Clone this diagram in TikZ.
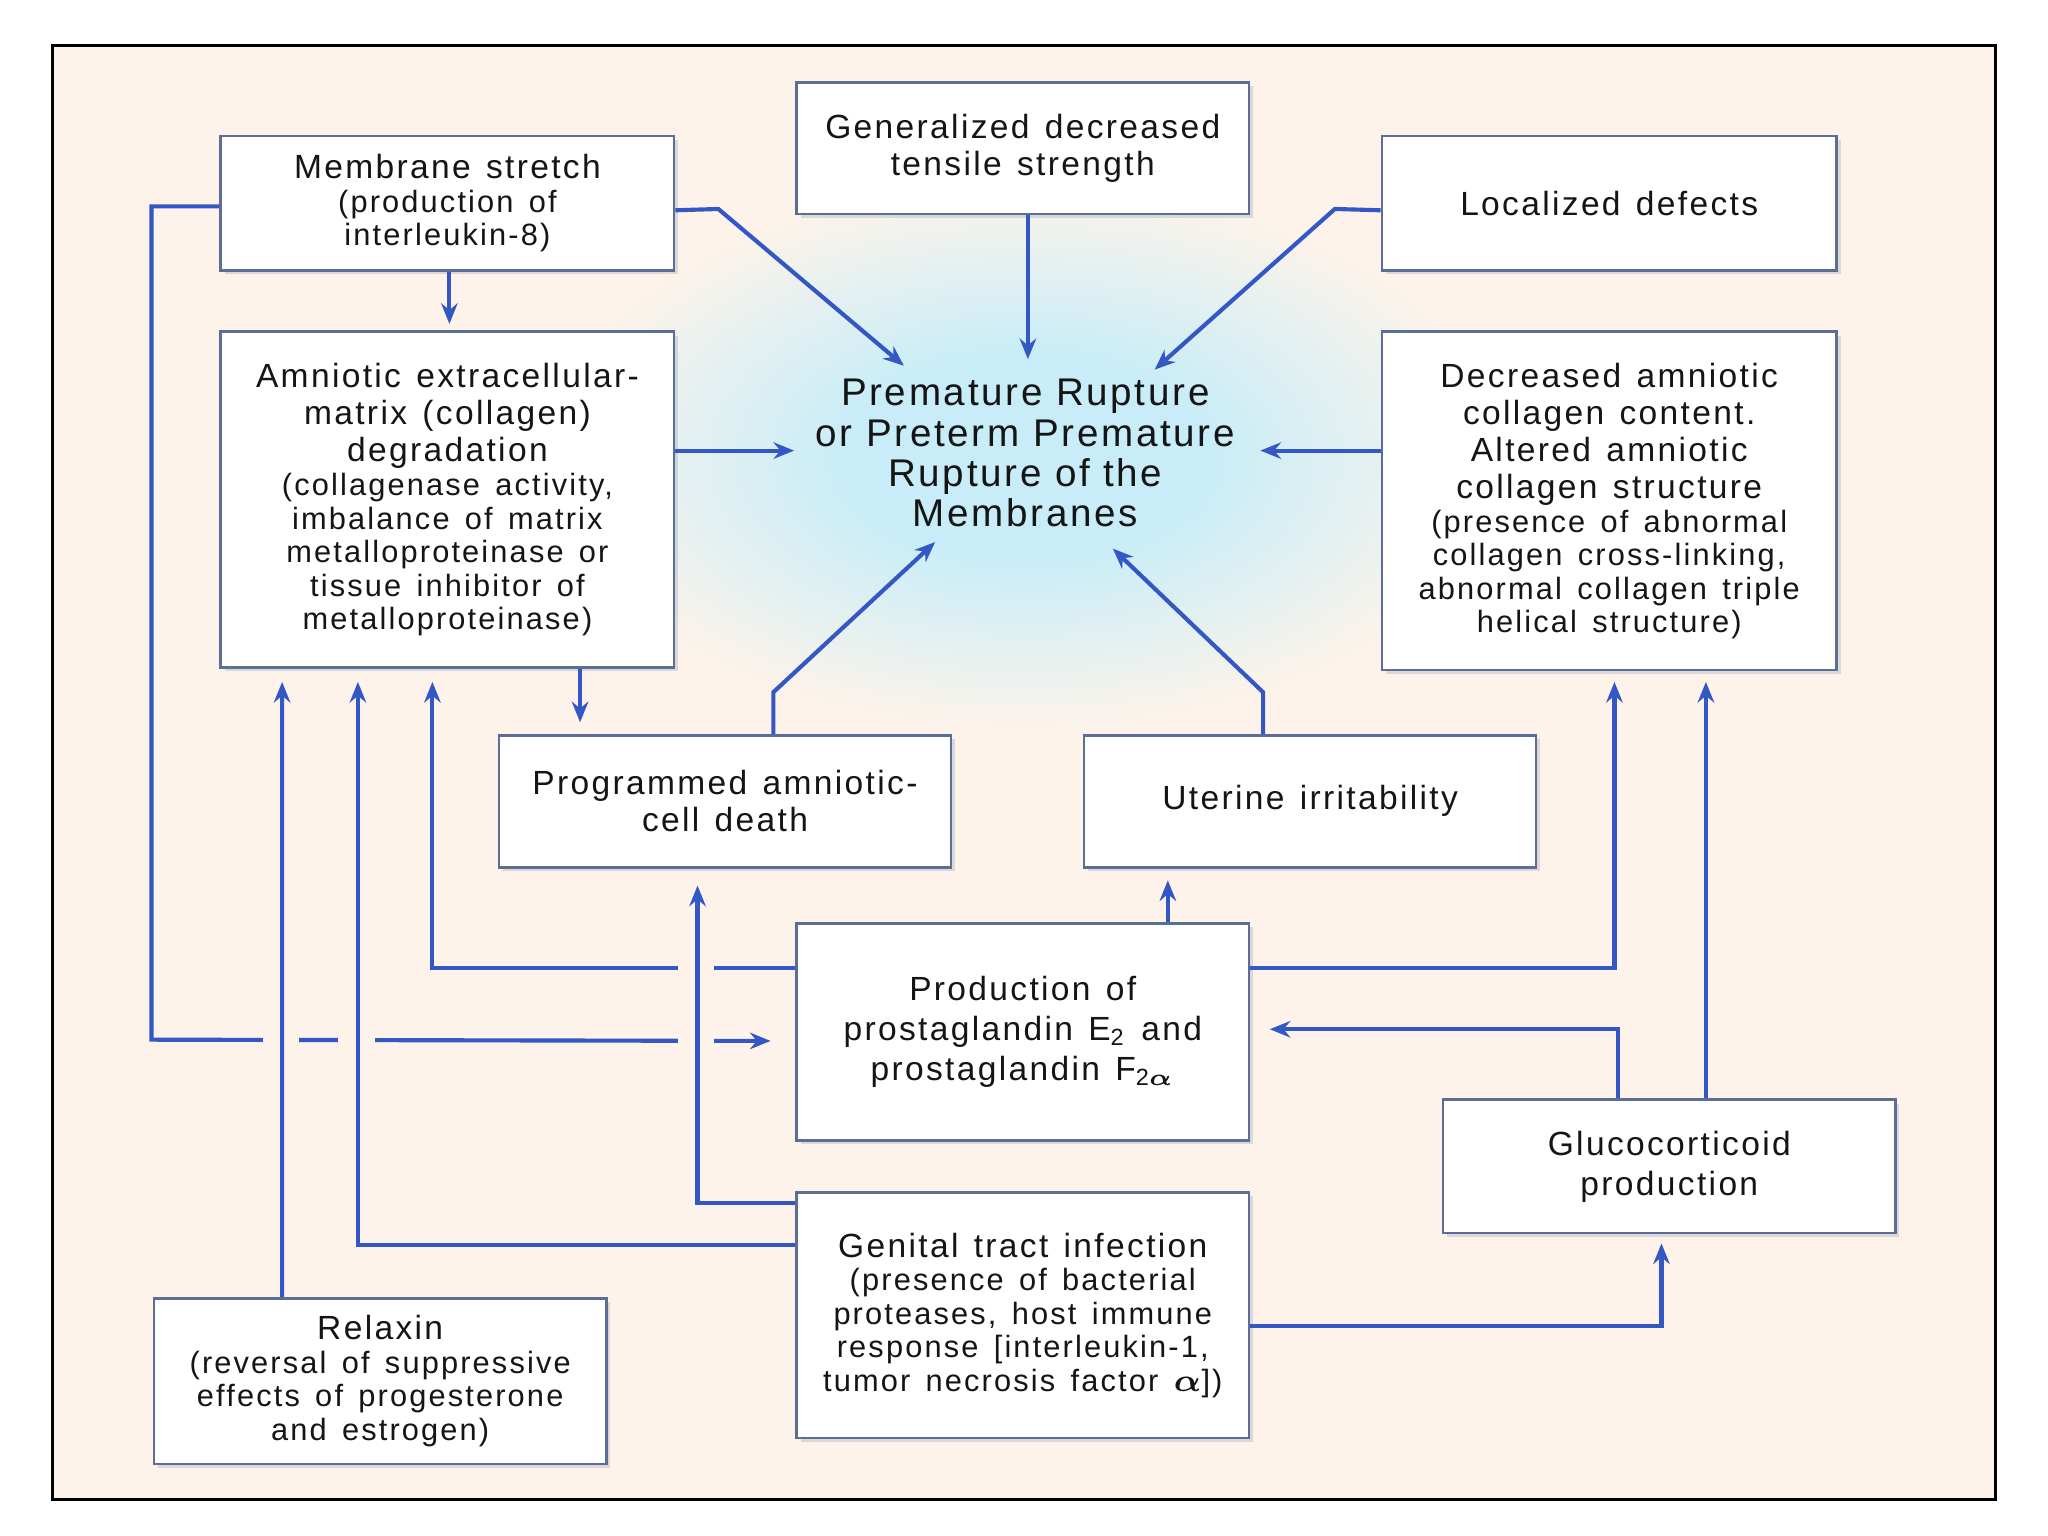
\documentclass[tikz,border=0pt]{standalone}
\usepackage{amsmath}
\usepackage{fontspec}
\setmainfont{Liberation Sans}[LetterSpace=7]
\usetikzlibrary{arrows.meta,shadows,calc}
\setlength\parindent{0pt}
\definecolor{bgc}{HTML}{FDF3EA}
\definecolor{boxc}{HTML}{5A6E96}
\definecolor{linec}{HTML}{3457C6}
\definecolor{glowc}{HTML}{C8EDF8}
\definecolor{txtc}{HTML}{151515}
\newcommand\ttl{\fontsize{7.3}{8.1}\selectfont}
\newcommand\ttlw{\fontsize{7.3}{8.7}\selectfont}
\newcommand\subtx{\fontsize{6.7}{7.3}\selectfont}
\newcommand\bigtx{\fontsize{8.4}{8.8}\selectfont}
\pgfdeclareradialshading{glowshade}{\pgfpoint{0bp}{0bp}}{color(0bp)=(glowc); color(9bp)=(glowc); color(25bp)=(bgc); color(50bp)=(bgc)}
\begin{document}
\begin{tikzpicture}[x=0.01cm,y=-0.01cm,
  box/.style={draw=boxc, line width=0.55pt, fill=white, inner sep=0pt, align=center,
    anchor=north west, text=txtc,
    drop shadow={shadow xshift=0.03cm, shadow yshift=-0.03cm, fill=boxc, opacity=0.2}},
  conn/.style={draw=linec, line width=0.9pt, -{Stealth[length=4.5pt,width=3.6pt,inset=1.5pt]}},
  gap/.style={fill=bgc, draw=none}]

\useasboundingbox (0,0) rectangle (1568,1176);
\fill[white] (0,0) rectangle (1568,1176);
\draw[fill=bgc, line width=0.6pt] (40,35) rectangle (1528,1148);
\shade[shading=glowshade] (785,350) ellipse [x radius=3.7cm, y radius=2.1cm];

% boxes
\node[box, minimum width=3.47cm, minimum height=1.03cm, text width=3.47cm] (ms) at (168,103)
  {{\ttl Membrane stretch\par}{\subtx (production of\\interleukin-8)\par}};
\node[box, minimum width=3.46cm, minimum height=1.01cm, text width=3.46cm] (gen) at (609,62)
  {{\ttl Generalized decreased\\tensile strength\par}};
\node[box, minimum width=3.48cm, minimum height=1.03cm, text width=3.48cm] (loc) at (1057,103)
  {{\ttl Localized defects\par}};
\node[box, minimum width=3.47cm, minimum height=2.57cm, text width=3.47cm] (ecm) at (168,253)
  {{\ttl Amniotic extracellular-\\matrix (collagen)\\degradation\par}{\subtx (collagenase activity,\\imbalance of matrix\\metalloproteinase or\\tissue inhibitor of\\metalloproteinase)\par}};
\node[box, minimum width=3.48cm, minimum height=2.59cm, text width=3.48cm] (dec) at (1057,253)
  {{\ttl Decreased amniotic\\collagen content.\\Altered amniotic\\collagen structure\par}{\subtx (presence of abnormal\\collagen cross-linking,\\abnormal collagen triple\\helical structure)\par}};
\node[box, minimum width=3.46cm, minimum height=1.01cm, text width=3.46cm] (prog) at (381,562)
  {{\ttl Programmed amniotic-\\cell death\par}};
\node[box, minimum width=3.46cm, minimum height=1.01cm, text width=3.46cm] (ut) at (829,562)
  {{\ttl Uterine irritability\par}};
\node[box, minimum width=3.46cm, minimum height=1.66cm, text width=3.46cm] (pg) at (609,706)
  {{\ttlw Production of\\prostaglandin E\textsubscript{2} and\\prostaglandin F\textsubscript{2$\boldsymbol{\alpha}$}\par}};
\node[box, minimum width=3.46cm, minimum height=1.02cm, text width=3.46cm] (gl) at (1104,841)
  {{\ttlw Glucocorticoid\\production\par}};
\node[box, minimum width=3.46cm, minimum height=1.88cm, text width=3.46cm] (gt) at (609,912)
  {{\ttl Genital tract infection\par}{\subtx (presence of bacterial\\proteases, host immune\\response [interleukin-1,\\tumor necrosis factor $\boldsymbol{\alpha}$])\par}};
\node[box, minimum width=3.46cm, minimum height=1.27cm, text width=3.46cm] (rel) at (117,993)
  {{\ttl Relaxin\par}{\subtx (reversal of suppressive\\effects of progesterone\\and estrogen)\par}};

\node[text=txtc, align=center, font=\bigtx, inner sep=0pt] (prom) at (785,347)
  {Premature Rupture\\or Preterm Premature\\Rupture of the\\Membranes};

% arrow ends at the central statement
\coordinate (c1) at (692,280);
\coordinate (c2) at (787,275);
\coordinate (c3) at (884,283);
\coordinate (c4) at (608,345);
\coordinate (c5) at (965,345);
\coordinate (c6) at (716,415);
\coordinate (c7) at (852,420);

% start points
\coordinate (msL) at ([yshift=-0.025cm]ms.west);
\coordinate (msR) at ([yshift=-0.055cm]ms.east);
\coordinate (msB) at ([xshift=0.015cm]ms.south);
\coordinate (locL) at ([yshift=-0.055cm]loc.west);
\coordinate (ecmB) at ([xshift=1.015cm]ecm.south);
\coordinate (progT) at ([xshift=0.37cm]prog.north);
\coordinate (utT) at ([xshift=-0.36cm]ut.north);
\coordinate (pgT) at ([xshift=1.11cm]pg.north);
\coordinate (pgL) at ([yshift=0.49cm]pg.west);
\coordinate (pgLo) at ([yshift=-0.07cm]pg.west);
\coordinate (pgR) at ([yshift=0.49cm]pg.east);
\coordinate (pgRi) at ([yshift=0.02cm]pg.east);
\coordinate (glA) at ([xshift=-0.39cm]gl.north);
\coordinate (glB) at ([xshift=0.28cm]gl.north);
\coordinate (glS) at ([xshift=-0.06cm]gl.south);
\coordinate (gtR) at ([yshift=-0.08cm]gt.east);
\coordinate (gtL1) at ([yshift=0.86cm]gt.west);
\coordinate (gtL2) at ([yshift=0.54cm]gt.west);
\coordinate (relT) at ([xshift=-0.75cm]rel.north);
\coordinate (ecmS1) at ([xshift=-1.265cm]ecm.south);
\coordinate (ecmS2) at ([xshift=-0.685cm]ecm.south);
\coordinate (ecmS3) at ([xshift=-0.115cm]ecm.south);
\coordinate (progS) at ([xshift=-0.21cm]prog.south);
\coordinate (decS) at ([xshift=0.04cm]dec.south);

% long horizontals (crossed by verticals)
\draw[conn, shorten >=0.19cm] (msL) -| (116,796) -- (pgLo);
\draw[conn, shorten >=0.1cm] (pgL) -| (ecmS3);
\fill[gap] (201,791) rectangle (229,801);
\fill[gap] (259,791) rectangle (287,801);
\fill[gap] (519,791) rectangle (547,801);
\fill[gap] (519,735) rectangle (547,745);

% verticals from below
\draw[conn, shorten >=0.1cm] (relT) -- (ecmS1);
\draw[conn, shorten >=0.1cm] (gtL2) -| (ecmS2);
\draw[conn, shorten >=0.13cm] (gtL1) -| (progS);

% into the central statement
\draw[conn] (msR) -- (550,160) -- (c1);
\draw[conn] (gen.south -| c2) -- (c2);
\draw[conn] (locL) -- (1022,160) -- (c3);
\draw[conn] (ecm.east |- c4) -- (c4);
\draw[conn] (dec.west |- c5) -- (c5);
\draw[conn] (progT) -- ++(0,-32) -- (c6);
\draw[conn] (utT) -- ++(0,-32) -- (c7);

% other links
\draw[conn, shorten >=0.05cm] (msB) -- (msB |- ecm.north);
\draw[conn, shorten >=0.09cm] (ecmB) -- (ecmB |- prog.north);
\draw[conn, shorten >=0.09cm] (pgT) -- (pgT |- ut.south);
\draw[conn, shorten >=0.08cm] (pgR) -| (decS);
\draw[conn, shorten >=0.08cm] (glB) -- (glB |- dec.south);
\draw[conn, shorten >=0.15cm] (glA) |- (pgRi);
\draw[conn, shorten >=0.07cm] (gtR) -| (glS);
\end{tikzpicture}
\end{document}
